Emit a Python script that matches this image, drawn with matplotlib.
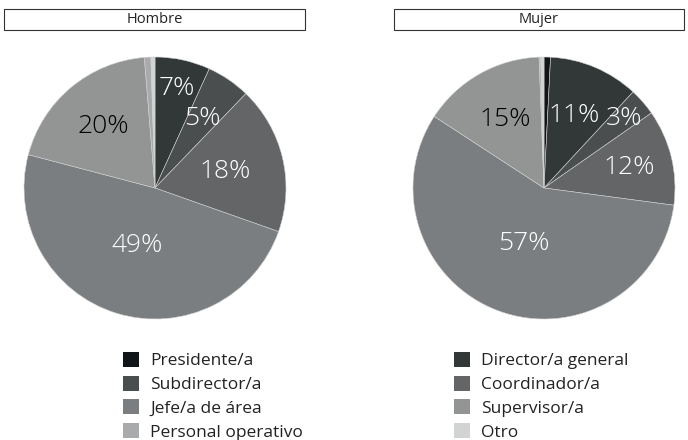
import numpy as np
import matplotlib.pyplot as plt
from matplotlib.patches import Rectangle, Patch

plt.rcParams["font.family"] = ["Open Sans", "DejaVu Sans"]

categories = ["Presidente/a", "Director/a general", "Subdirector/a", "Coordinador/a",
              "Jefe/a de área", "Supervisor/a", "Personal operativo", "Otro"]
hombre = [0.0, 6.8, 5.4, 18.2, 48.7, 19.6, 0.8, 0.5]
mujer = [0.8, 11.1, 3.4, 11.8, 57.1, 15.2, 0.2, 0.4]
panels = ["Hombre", "Mujer"]

colors = ["#121518", "#323737", "#4b4e4f", "#636566",
          "#7b7e80", "#939594", "#a8aaab", "#d2d3d3"]
text_colors = ["white", "white", "white", "white", "white", "black", "black", "black"]
# radial placement of the percentage labels (fraction of radius)
label_r = {
    "Hombre": [0.6, 0.78, 0.64, 0.55, 0.46, 0.61, 0.6, 0.6],
    "Mujer": [0.6, 0.6, 0.81, 0.67, 0.45, 0.6, 0.6, 0.6],
}

W, H = 688, 440
fig = plt.figure(figsize=(W / 100, H / 100), dpi=100)

centers = [155, 544]
radius = 131
cy = 188

for name, values, cx in zip(panels, [hombre, mujer], centers):
    ax = fig.add_axes([(cx - radius) / W, (H - cy - radius) / H, 2 * radius / W, 2 * radius / H])
    wedges, _ = ax.pie(values, colors=colors, startangle=90, counterclock=False,
                       wedgeprops=dict(edgecolor="#d0d0d0", linewidth=0.4))
    total = sum(values)
    for i, (w, v) in enumerate(zip(wedges, values)):
        pct = 100 * v / total
        if pct < 2.5:
            continue
        ang = np.deg2rad((w.theta1 + w.theta2) / 2)
        r = label_r[name][i]
        ax.text(r * np.cos(ang), r * np.sin(ang), f"{pct:.0f}%", ha="center", va="center",
                fontsize=19, color=text_colors[i], fontweight="light")
    ax.set_xlim(-1, 1)
    ax.set_ylim(-1, 1)
    ax.set_aspect("equal")

# title boxes
boxes = {"Hombre": (4, 305), "Mujer": (394, 684)}
for name in panels:
    x0, x1 = boxes[name]
    fig.patches.append(Rectangle((x0 / W, 1 - 30 / H), (x1 - x0) / W, 21 / H,
                                 transform=fig.transFigure, facecolor="white",
                                 edgecolor="#333333", linewidth=0.8))
    fig.text((x0 + x1) / 2 / W, 1 - 19.5 / H, name, ha="center", va="center",
             fontsize=10.5, color="#222222")

# legend, filled row by row across two columns
handles = [Patch(facecolor=c, edgecolor="none") for c in colors]
order = list(range(0, 8, 2)) + list(range(1, 8, 2))
fig.legend([handles[i] for i in order], [categories[i] for i in order], ncol=2,
           loc="upper left", bbox_to_anchor=(123 / W, 1 - 352 / H), frameon=False,
           fontsize=12.5, handlelength=0.95, handleheight=0.95, handletextpad=0.6,
           columnspacing=8.7, labelspacing=0.36, borderpad=0, borderaxespad=0,
           labelcolor="#222222")

fig.savefig("out.png", dpi=100)
